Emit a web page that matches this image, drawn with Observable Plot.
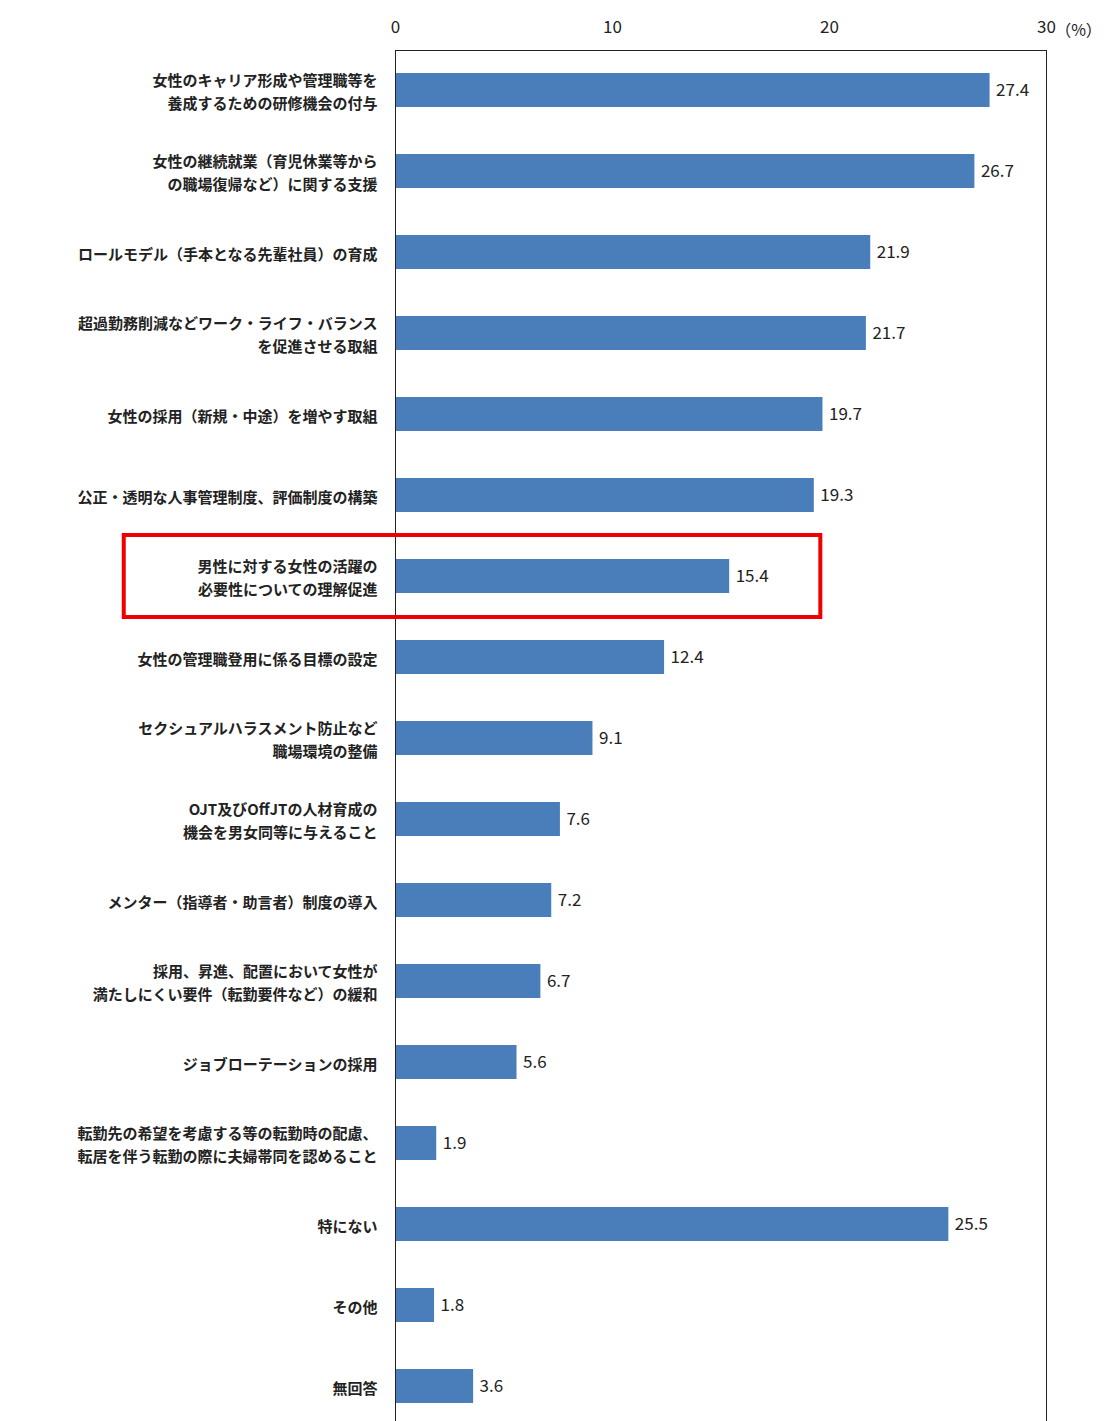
<!DOCTYPE html>
<html><head><meta charset="utf-8">
<script src="https://cdn.jsdelivr.net/npm/d3@7"></script>
<script src="https://cdn.jsdelivr.net/npm/@observablehq/plot@0.6"></script>
<style>body{margin:0;background:#fff;}</style>
</head><body>
<div id="chart"></div>
<script>
const categories = [
  "女性のキャリア形成や管理職等を\n養成するための研修機会の付与",
  "女性の継続就業（育児休業等から\nの職場復帰など）に関する支援",
  "ロールモデル（手本となる先輩社員）の育成",
  "超過勤務削減などワーク・ライフ・バランス\nを促進させる取組",
  "女性の採用（新規・中途）を増やす取組",
  "公正・透明な人事管理制度、評価制度の構築",
  "男性に対する女性の活躍の\n必要性についての理解促進",
  "女性の管理職登用に係る目標の設定",
  "セクシュアルハラスメント防止など\n職場環境の整備",
  "OJT及びOffJTの人材育成の\n機会を男女同等に与えること",
  "メンター（指導者・助言者）制度の導入",
  "採用、昇進、配置において女性が\n満たしにくい要件（転勤要件など）の緩和",
  "ジョブローテーションの採用",
  "転勤先の希望を考慮する等の転勤時の配慮、\n転居を伴う転勤の際に夫婦帯同を認めること",
  "特にない",
  "その他",
  "無回答"
];
const values = [27.4, 26.7, 21.9, 21.7, 19.7, 19.3, 15.4, 12.4, 9.1, 7.6, 7.2, 6.7, 5.6, 1.9, 25.5, 1.8, 3.6];
const highlight = [{cat: categories[6], x1: -12.5, x2: 19.6}];

const data = categories.map((c, i) => ({cat: c, value: values[i]}));

const chart = Plot.plot({
  width: 1106,
  height: 1421,
  marginLeft: 395,
  marginRight: 60,
  marginTop: 50,
  marginBottom: -5,
  style: {fontFamily: "'Noto Sans CJK JP', sans-serif", fontSize: 16, color: "#222"},
  x: {domain: [0, 30], axis: null},
  y: {domain: categories, paddingInner: 0.58, paddingOuter: 0.24, axis: null},
  marks: [
    Plot.axisX({anchor: "top", ticks: [0, 10, 20, 30], tickSize: 0, tickPadding: 18, label: null, fontSize: 17}),
    Plot.text(["（%）"], {x: 30, frameAnchor: "top", dy: -26, dx: 32, fontSize: 16}),
    Plot.axisY({anchor: "left", tickSize: 0, tickPadding: 18, label: null, lineHeight: 1.5, fontSize: 15, fontWeight: 600}),
    Plot.barX(data, {x: "value", y: "cat", fill: "#4a7ebb"}),
    Plot.text(data, {x: "value", y: "cat", text: d => d.value.toFixed(1), textAnchor: "start", dx: 6, fontSize: 17}),
    Plot.frame({stroke: "#222"}),
    Plot.rect(highlight, {x1: "x1", x2: "x2", y: "cat", insetTop: -24, insetBottom: -24, fill: "none", stroke: "#ee0000", strokeWidth: 4, clip: false})
  ]
});
document.getElementById("chart").append(chart);
</script>
</body></html>
